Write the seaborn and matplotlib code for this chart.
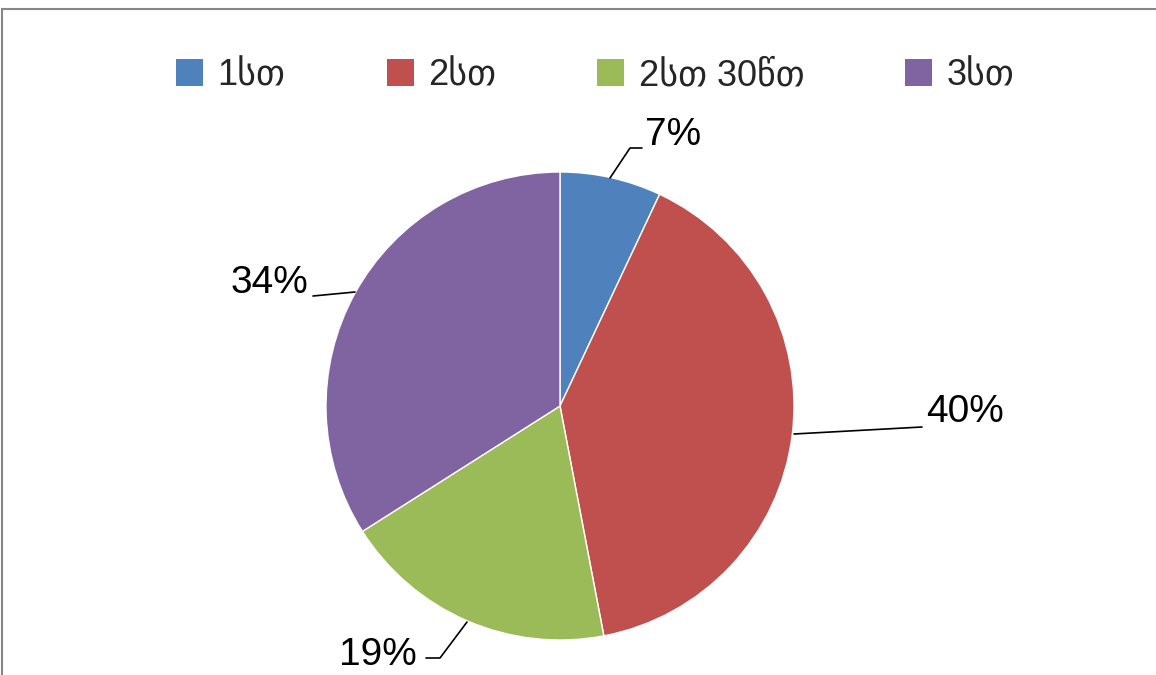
import matplotlib.pyplot as plt
import seaborn as sns
from matplotlib.patches import Rectangle, Patch

# data
labels = ['1სთ', '2სთ', '2სთ 30წთ', '3სთ']
shares = [7, 40, 19, 34]
colors = ['#4F81BD', '#C0504D', '#9BBB59', '#8064A2']

sns.set_theme(style="white")
plt.rcParams['font.family'] = ['Liberation Sans', 'DejaVu Sans']

W, H = 1156, 675
cx, cy, R = 560, 406, 234  # pie centre / radius in pixels

fig = plt.figure(figsize=(W / 100, H / 100), dpi=100)
ax = fig.add_axes([0, 0, 1, 1])

ax.pie(shares, colors=colors, startangle=90, counterclock=False,
       wedgeprops=dict(edgecolor='white', linewidth=1))
ax.set_xlim(-cx / R, (W - cx) / R)
ax.set_ylim(-(H - cy) / R, cy / R)
ax.axis('off')


def px(x, y):
    return (x - cx) / R, (cy - y) / R


# label positions (pixels) and leader lines
label_pos = [(645, 135, 'left'), (926, 412, 'left'), (378, 655, 'center'), (308, 283, 'right')]
leaders = [
    [(610, 178), (630, 148), (642, 148)],
    [(794, 434), (922, 427)],
    [(467, 622), (440, 658), (426, 658)],
    [(355, 292), (313, 296)],
]
for val, (lx, ly, ha), pts in zip(shares, label_pos, leaders):
    xs, ys = zip(*[px(a, b) for a, b in pts])
    ax.plot(xs, ys, color='black', lw=1.2)
    tx, ty = px(lx, ly)
    ax.text(tx, ty, f'{val}%', fontsize=28, ha=ha, va='center', color='black')

handles = [Patch(facecolor=c, edgecolor='none') for c in colors]
fig.legend(handles, labels, loc='center', bbox_to_anchor=(0.515, 0.888), ncol=4,
           frameon=False, fontsize=26, handlelength=0.75, handleheight=0.75,
           handletextpad=0.4, columnspacing=2.8)

fig.patches.append(Rectangle((2 / W, -0.1), 1.2, 1 - 9 / H + 0.1, transform=fig.transFigure,
                             fill=False, edgecolor='#868686', lw=1.5))

fig.savefig('out.png', dpi=100)
